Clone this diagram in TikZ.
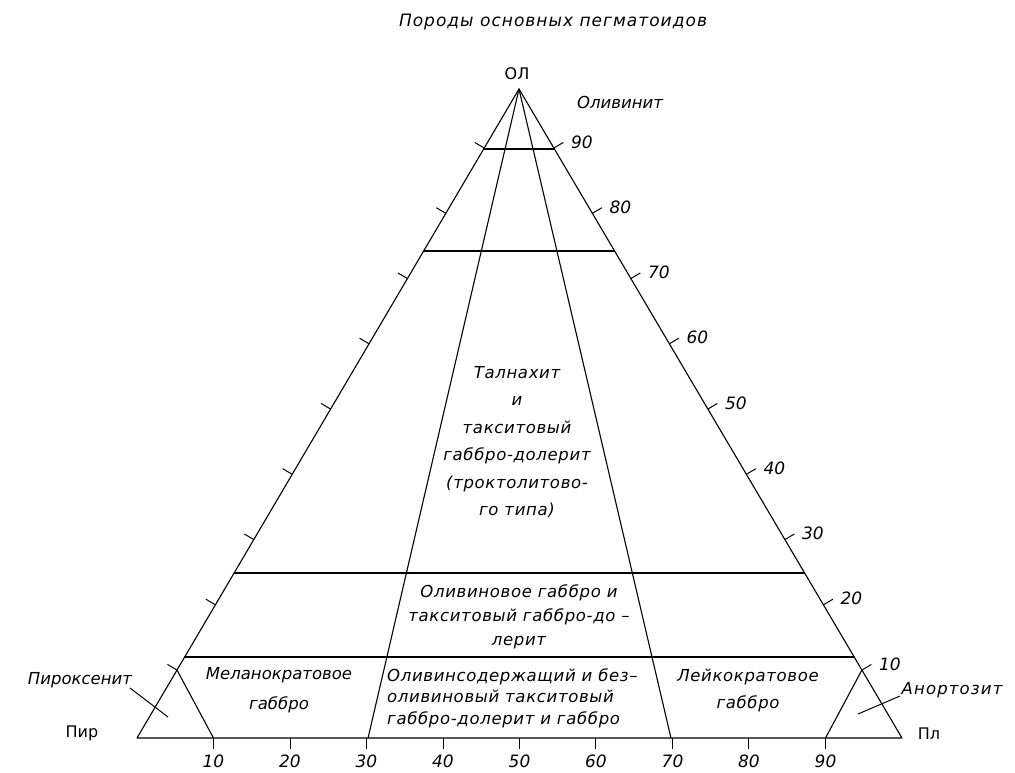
\documentclass[tikz,border=0pt]{standalone}
\usepackage{fontspec}
\setmainfont{DejaVu Sans}[LetterSpace=4]
\usetikzlibrary{calc}
\tikzset{
  ln/.style={line width=1.1pt, line cap=round, line join=round},
  tk/.style={line width=1pt},
  lbl/.style={font=\fontsize{16.5}{19}\selectfont\itshape, inner sep=0pt},
  tight/.style={font=\fontsize{16.5}{19}\selectfont\itshape\addfontfeature{LetterSpace=0}, inner sep=0pt},
  up/.style={font=\fontsize{16}{18}\selectfont\addfontfeature{LetterSpace=0}, inner sep=0pt},
  num/.style={font=\fontsize{17}{19}\selectfont\itshape\addfontfeature{LetterSpace=0}, inner sep=0pt}
}
\begin{document}
\begin{tikzpicture}[x=1pt,y=-1pt]
\useasboundingbox (0,0) rectangle (1015,773);
% main vertices
\coordinate (A) at (519,89);
\coordinate (B) at (137,738);
\coordinate (C) at (902,738);
\draw[ln] (B) -- (A) -- (C) -- cycle;
% inner fan lines
\coordinate (P30) at ($(B)!0.302!(C)$);
\coordinate (P70) at ($(B)!0.698!(C)$);
\draw[ln] (A) -- (P30);
\draw[ln] (A) -- (P70);
% horizontal boundaries
\foreach \y/\n in {149/a,251/b,573/c,657/d}{
  \pgfmathsetmacro\t{(738-\y)/649}
  \coordinate (HL\n) at ($(B)!\t!(A)$);
  \coordinate (HR\n) at ($(C)!\t!(A)$);
  \draw[ln] (HL\n) -- (HR\n);
}
% side ticks and right-side labels
\foreach \k in {1,...,9}{
  \pgfmathsetmacro\t{(2.7+65.25*\k)/649}
  \coordinate (L\k) at ($(B)!\t!(A)$);
  \coordinate (R\k) at ($(C)!\t!(A)$);
  \draw[tk] (L\k) -- ++(-9.5,-5.6);
  \draw[tk] (R\k) -- ++(9.5,-5.6);
  \node[num] (RN\k) at ($(R\k)+(28,-6)$) {\k0};
}
% bottom ticks and labels
\foreach \k in {1,...,9}{
  \coordinate (T\k) at ($(B)!\k/10!(C)$);
  \draw[tk] (T\k) -- ++(0,11);
  \node[num] (BN\k) at ($(T\k)+(0,23)$) {\k0};
}
% corner triangles
\draw[ln] (T1) -- (L1);
\draw[ln] (T9) -- (R1);
% vertex labels
\node[up] (ol) at (517,74) {ОЛ};
\node[up] (pir) at (82,733) {Пир};
\node[up] (pl) at (929,734) {Пл};
% title
\node[lbl, font=\fontsize{17}{19}\selectfont\itshape\addfontfeature{LetterSpace=6}] (title) at (553,22) {Породы основных пегматоидов};
% region labels
\node[tight] (oliv) at (620,102) {Оливинит};
\node[lbl, align=center, font=\fontsize{16.5}{27.4}\selectfont\itshape] (tal) at (517,442)
  {Талнахит\\и\\такситовый\\габбро-долерит\\(троктолитово-\\го типа)};
\node[lbl, align=center, font=\fontsize{16.5}{24}\selectfont\itshape] (olg) at (519,617)
  {Оливиновое габбро и\\такситовый габбро-до –\\лерит};
\node[lbl, align=left, anchor=west, font=\fontsize{16.5}{21.5}\selectfont\itshape] (olsod) at (387,698)
  {Оливинсодержащий и без–\\оливиновый такситовый\\габбро-долерит и габбро};
\node[tight, align=center, font=\fontsize{16.5}{30}\selectfont\itshape\addfontfeature{LetterSpace=0}] (mel) at (279,690)
  {Меланократовое\\габбро};
\node[lbl, align=center, font=\fontsize{16.5}{27}\selectfont\itshape] (lei) at (748,690)
  {Лейкократовое\\габбро};
% corner labels with leaders
\node[tight] (pirox) at (80,680) {Пироксенит};
\coordinate (px1) at (130,688);
\coordinate (px2) at (168,717);
\draw[tk] (px1) -- (px2);
\node[lbl, font=\fontsize{16.5}{19}\selectfont\itshape\addfontfeature{LetterSpace=7}] (anort) at (952,690) {Анортозит};
\coordinate (an1) at (900,696);
\coordinate (an2) at (858,714);
\draw[tk] (an1) -- (an2);
\end{tikzpicture}
\end{document}
